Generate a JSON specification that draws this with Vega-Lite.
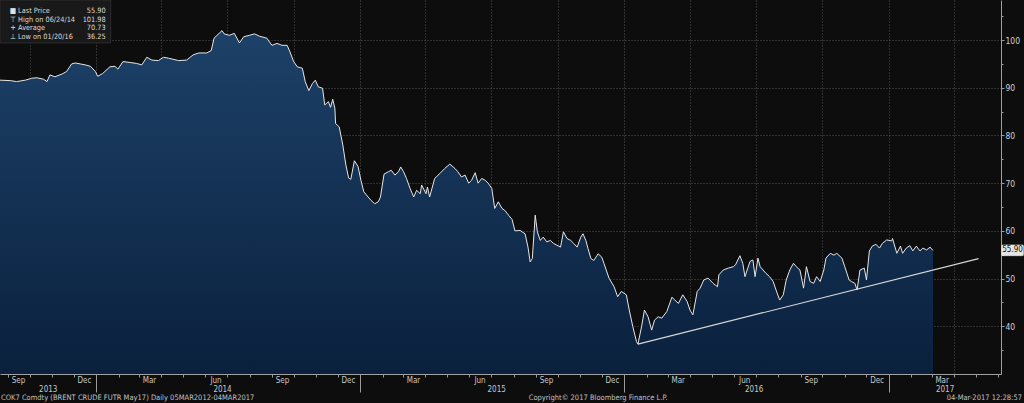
{
  "$schema": "https://vega.github.io/schema/vega-lite/v6.json",
  "width": 1001,
  "height": 374,
  "autosize": {"type": "none"},
  "padding": {"left": 0, "top": 0, "right": 23, "bottom": 29},
  "background": "#0d0d0e",
  "config": {
    "view": {"stroke": null},
    "font": "Liberation Sans Narrow, DejaVu Sans Condensed, Liberation Sans, sans-serif",
    "axis": {
      "labelFont": "Liberation Sans Narrow, DejaVu Sans Condensed, Liberation Sans, sans-serif",
      "labelColor": "#c8c8c8",
      "labelFontSize": 8,
      "tickColor": "#9a9a9a",
      "domainColor": "#a0a0a0",
      "gridColor": "#555555",
      "gridDash": [1, 2],
      "gridWidth": 1,
      "title": null
    }
  },
  "datasets": {
    "price": [
      {"d": "2013-08-21", "p": 91.6}, {"d": "2013-09-04", "p": 91.5}, {"d": "2013-09-13", "p": 91.3}, {"d": "2013-09-25", "p": 91.6},
      {"d": "2013-10-04", "p": 92.0}, {"d": "2013-10-11", "p": 92.1}, {"d": "2013-10-20", "p": 91.8}, {"d": "2013-10-25", "p": 91.3},
      {"d": "2013-10-29", "p": 92.7}, {"d": "2013-11-05", "p": 92.3}, {"d": "2013-11-15", "p": 92.9}, {"d": "2013-11-21", "p": 93.4},
      {"d": "2013-11-28", "p": 95.0}, {"d": "2013-12-03", "p": 95.2}, {"d": "2013-12-10", "p": 95.0}, {"d": "2013-12-17", "p": 94.8},
      {"d": "2013-12-24", "p": 94.5}, {"d": "2013-12-31", "p": 93.4}, {"d": "2014-01-03", "p": 92.4}, {"d": "2014-01-10", "p": 93.0},
      {"d": "2014-01-20", "p": 94.4}, {"d": "2014-01-27", "p": 94.5}, {"d": "2014-01-31", "p": 93.9}, {"d": "2014-02-07", "p": 95.5},
      {"d": "2014-02-17", "p": 95.3}, {"d": "2014-02-26", "p": 95.1}, {"d": "2014-03-05", "p": 94.8}, {"d": "2014-03-12", "p": 96.4},
      {"d": "2014-03-19", "p": 95.8}, {"d": "2014-03-28", "p": 95.7}, {"d": "2014-04-04", "p": 96.4}, {"d": "2014-04-11", "p": 96.2},
      {"d": "2014-04-25", "p": 95.7}, {"d": "2014-05-06", "p": 95.8}, {"d": "2014-05-15", "p": 96.9}, {"d": "2014-05-23", "p": 97.3},
      {"d": "2014-06-03", "p": 97.3}, {"d": "2014-06-09", "p": 97.8}, {"d": "2014-06-13", "p": 100.4}, {"d": "2014-06-24", "p": 101.98},
      {"d": "2014-06-27", "p": 101.3}, {"d": "2014-07-04", "p": 101.0}, {"d": "2014-07-11", "p": 101.4}, {"d": "2014-07-18", "p": 99.4},
      {"d": "2014-07-24", "p": 100.7}, {"d": "2014-08-01", "p": 101.0}, {"d": "2014-08-08", "p": 101.3}, {"d": "2014-08-15", "p": 100.8},
      {"d": "2014-08-25", "p": 100.4}, {"d": "2014-09-01", "p": 98.9}, {"d": "2014-09-08", "p": 99.3}, {"d": "2014-09-15", "p": 98.9},
      {"d": "2014-09-22", "p": 98.9}, {"d": "2014-09-26", "p": 97.5}, {"d": "2014-10-01", "p": 95.5}, {"d": "2014-10-06", "p": 94.4},
      {"d": "2014-10-13", "p": 94.1}, {"d": "2014-10-17", "p": 91.3}, {"d": "2014-10-22", "p": 89.4}, {"d": "2014-10-27", "p": 90.9},
      {"d": "2014-10-31", "p": 91.6}, {"d": "2014-11-04", "p": 90.2}, {"d": "2014-11-10", "p": 89.9}, {"d": "2014-11-13", "p": 86.4},
      {"d": "2014-11-18", "p": 87.1}, {"d": "2014-11-21", "p": 85.9}, {"d": "2014-11-24", "p": 87.6}, {"d": "2014-11-27", "p": 85.7},
      {"d": "2014-11-28", "p": 82.5}, {"d": "2014-12-03", "p": 81.8}, {"d": "2014-12-08", "p": 78.0}, {"d": "2014-12-12", "p": 74.0},
      {"d": "2014-12-16", "p": 71.1}, {"d": "2014-12-19", "p": 70.8}, {"d": "2014-12-24", "p": 74.7}, {"d": "2014-12-29", "p": 73.5},
      {"d": "2015-01-02", "p": 70.6}, {"d": "2015-01-06", "p": 68.2}, {"d": "2015-01-12", "p": 67.1}, {"d": "2015-01-16", "p": 66.4},
      {"d": "2015-01-21", "p": 65.7}, {"d": "2015-01-26", "p": 66.1}, {"d": "2015-01-29", "p": 67.1}, {"d": "2015-02-03", "p": 71.9},
      {"d": "2015-02-09", "p": 72.4}, {"d": "2015-02-13", "p": 72.7}, {"d": "2015-02-18", "p": 71.7}, {"d": "2015-02-23", "p": 72.4},
      {"d": "2015-02-26", "p": 73.4}, {"d": "2015-03-02", "p": 72.4}, {"d": "2015-03-06", "p": 71.0}, {"d": "2015-03-11", "p": 68.9},
      {"d": "2015-03-16", "p": 67.1}, {"d": "2015-03-20", "p": 68.5}, {"d": "2015-03-25", "p": 67.8}, {"d": "2015-03-27", "p": 69.6},
      {"d": "2015-04-02", "p": 67.8}, {"d": "2015-04-04", "p": 69.2}, {"d": "2015-04-07", "p": 67.1}, {"d": "2015-04-14", "p": 71.0},
      {"d": "2015-04-21", "p": 72.0}, {"d": "2015-04-28", "p": 73.1}, {"d": "2015-05-05", "p": 74.0}, {"d": "2015-05-12", "p": 73.1},
      {"d": "2015-05-16", "p": 72.4}, {"d": "2015-05-21", "p": 71.3}, {"d": "2015-05-26", "p": 71.7}, {"d": "2015-05-31", "p": 70.0},
      {"d": "2015-06-04", "p": 70.6}, {"d": "2015-06-09", "p": 72.2}, {"d": "2015-06-13", "p": 70.0}, {"d": "2015-06-18", "p": 71.0},
      {"d": "2015-06-23", "p": 70.6}, {"d": "2015-06-27", "p": 70.0}, {"d": "2015-07-02", "p": 68.9}, {"d": "2015-07-06", "p": 64.7},
      {"d": "2015-07-11", "p": 66.1}, {"d": "2015-07-16", "p": 64.7}, {"d": "2015-07-20", "p": 64.3}, {"d": "2015-07-25", "p": 63.3},
      {"d": "2015-07-30", "p": 62.4}, {"d": "2015-08-03", "p": 60.0}, {"d": "2015-08-10", "p": 60.1}, {"d": "2015-08-17", "p": 59.4},
      {"d": "2015-08-21", "p": 56.6}, {"d": "2015-08-24", "p": 53.5}, {"d": "2015-08-27", "p": 54.2}, {"d": "2015-08-31", "p": 63.3},
      {"d": "2015-09-03", "p": 59.8}, {"d": "2015-09-07", "p": 58.0}, {"d": "2015-09-11", "p": 58.7}, {"d": "2015-09-16", "p": 57.7},
      {"d": "2015-09-21", "p": 58.0}, {"d": "2015-09-25", "p": 57.4}, {"d": "2015-09-30", "p": 57.0}, {"d": "2015-10-05", "p": 56.6},
      {"d": "2015-10-09", "p": 59.8}, {"d": "2015-10-14", "p": 58.4}, {"d": "2015-10-19", "p": 58.0}, {"d": "2015-10-23", "p": 57.4},
      {"d": "2015-10-28", "p": 56.6}, {"d": "2015-11-02", "p": 58.7}, {"d": "2015-11-05", "p": 59.4}, {"d": "2015-11-09", "p": 58.0},
      {"d": "2015-11-12", "p": 56.3}, {"d": "2015-11-16", "p": 54.2}, {"d": "2015-11-20", "p": 53.8}, {"d": "2015-11-26", "p": 55.2},
      {"d": "2015-12-01", "p": 54.5}, {"d": "2015-12-04", "p": 53.2}, {"d": "2015-12-11", "p": 50.1}, {"d": "2015-12-18", "p": 48.3},
      {"d": "2015-12-23", "p": 46.2}, {"d": "2015-12-28", "p": 47.3}, {"d": "2016-01-04", "p": 46.6}, {"d": "2016-01-08", "p": 43.4},
      {"d": "2016-01-13", "p": 39.9}, {"d": "2016-01-18", "p": 36.8}, {"d": "2016-01-20", "p": 36.25}, {"d": "2016-01-25", "p": 39.9},
      {"d": "2016-01-29", "p": 43.4}, {"d": "2016-02-03", "p": 42.0}, {"d": "2016-02-08", "p": 39.2}, {"d": "2016-02-12", "p": 41.3},
      {"d": "2016-02-17", "p": 42.0}, {"d": "2016-02-22", "p": 41.7}, {"d": "2016-02-29", "p": 43.1}, {"d": "2016-03-07", "p": 46.1},
      {"d": "2016-03-11", "p": 45.5}, {"d": "2016-03-16", "p": 44.8}, {"d": "2016-03-22", "p": 46.6}, {"d": "2016-03-28", "p": 45.2},
      {"d": "2016-04-01", "p": 43.4}, {"d": "2016-04-05", "p": 42.4}, {"d": "2016-04-11", "p": 47.3}, {"d": "2016-04-15", "p": 48.0},
      {"d": "2016-04-20", "p": 49.7}, {"d": "2016-04-26", "p": 50.1}, {"d": "2016-05-03", "p": 49.0}, {"d": "2016-05-09", "p": 48.3},
      {"d": "2016-05-11", "p": 50.8}, {"d": "2016-05-17", "p": 51.8}, {"d": "2016-05-24", "p": 52.2}, {"d": "2016-05-31", "p": 52.5},
      {"d": "2016-06-03", "p": 52.9}, {"d": "2016-06-09", "p": 54.8}, {"d": "2016-06-13", "p": 53.2}, {"d": "2016-06-16", "p": 50.4},
      {"d": "2016-06-23", "p": 53.6}, {"d": "2016-06-27", "p": 53.9}, {"d": "2016-06-30", "p": 50.4}, {"d": "2016-07-04", "p": 54.3},
      {"d": "2016-07-07", "p": 52.5}, {"d": "2016-07-11", "p": 51.8}, {"d": "2016-07-15", "p": 51.1}, {"d": "2016-07-20", "p": 50.4},
      {"d": "2016-07-25", "p": 49.4}, {"d": "2016-07-29", "p": 47.6}, {"d": "2016-08-03", "p": 45.5}, {"d": "2016-08-08", "p": 46.6},
      {"d": "2016-08-12", "p": 49.7}, {"d": "2016-08-17", "p": 51.8}, {"d": "2016-08-22", "p": 53.2}, {"d": "2016-08-26", "p": 52.5},
      {"d": "2016-08-31", "p": 51.8}, {"d": "2016-09-05", "p": 48.0}, {"d": "2016-09-09", "p": 52.5}, {"d": "2016-09-14", "p": 49.4},
      {"d": "2016-09-19", "p": 49.0}, {"d": "2016-09-23", "p": 50.4}, {"d": "2016-09-28", "p": 49.4}, {"d": "2016-10-03", "p": 51.8},
      {"d": "2016-10-06", "p": 54.3}, {"d": "2016-10-12", "p": 55.3}, {"d": "2016-10-17", "p": 54.9}, {"d": "2016-10-21", "p": 55.3},
      {"d": "2016-10-28", "p": 54.3}, {"d": "2016-11-01", "p": 52.5}, {"d": "2016-11-07", "p": 49.7}, {"d": "2016-11-10", "p": 49.4},
      {"d": "2016-11-15", "p": 49.0}, {"d": "2016-11-18", "p": 47.6}, {"d": "2016-11-22", "p": 51.8}, {"d": "2016-11-28", "p": 52.2},
      {"d": "2016-12-01", "p": 49.7}, {"d": "2016-12-05", "p": 55.8}, {"d": "2016-12-09", "p": 56.8}, {"d": "2016-12-14", "p": 57.2},
      {"d": "2016-12-19", "p": 56.4}, {"d": "2016-12-23", "p": 57.4}, {"d": "2016-12-29", "p": 58.1}, {"d": "2017-01-05", "p": 57.9},
      {"d": "2017-01-06", "p": 58.4}, {"d": "2017-01-12", "p": 55.3}, {"d": "2017-01-17", "p": 56.8}, {"d": "2017-01-20", "p": 55.3},
      {"d": "2017-01-25", "p": 56.4}, {"d": "2017-01-30", "p": 56.9}, {"d": "2017-02-03", "p": 55.8}, {"d": "2017-02-08", "p": 56.8},
      {"d": "2017-02-13", "p": 55.8}, {"d": "2017-02-17", "p": 56.4}, {"d": "2017-02-22", "p": 56.0}, {"d": "2017-02-27", "p": 56.6},
      {"d": "2017-03-01", "p": 56.2}, {"d": "2017-03-03", "p": 55.9}
    ],
    "trend": [
      {"d": "2016-01-20", "p": 36.25},
      {"d": "2017-05-05", "p": 54.2}
    ]
  },
  "resolve": {"axis": {"x": "independent", "y": "independent"}},
  "layer": [
    {
      "data": {"name": "price"},
      "mark": {
        "type": "area",
        "color": {
          "gradient": "linear", "x1": 0, "y1": 0, "x2": 0, "y2": 1,
          "stops": [{"offset": 0, "color": "#1d4168"}, {"offset": 1, "color": "#0a203d"}]
        }
      },
      "encoding": {
        "x": {
          "field": "d", "type": "temporal",
          "scale": {"domain": [{"year": 2013, "month": 8, "date": 21}, {"year": 2017, "month": 6, "date": 5}]},
          "axis": {
            "orient": "bottom",
            "values": [
              {"year": 2013, "month": 9, "date": 1}, {"year": 2013, "month": 10, "date": 1}, {"year": 2013, "month": 11, "date": 1}, {"year": 2013, "month": 12, "date": 1},
              {"year": 2014, "month": 1, "date": 1}, {"year": 2014, "month": 2, "date": 1}, {"year": 2014, "month": 3, "date": 1}, {"year": 2014, "month": 4, "date": 1},
              {"year": 2014, "month": 5, "date": 1}, {"year": 2014, "month": 6, "date": 1}, {"year": 2014, "month": 7, "date": 1}, {"year": 2014, "month": 8, "date": 1},
              {"year": 2014, "month": 9, "date": 1}, {"year": 2014, "month": 10, "date": 1}, {"year": 2014, "month": 11, "date": 1}, {"year": 2014, "month": 12, "date": 1},
              {"year": 2015, "month": 1, "date": 1}, {"year": 2015, "month": 2, "date": 1}, {"year": 2015, "month": 3, "date": 1}, {"year": 2015, "month": 4, "date": 1},
              {"year": 2015, "month": 5, "date": 1}, {"year": 2015, "month": 6, "date": 1}, {"year": 2015, "month": 7, "date": 1}, {"year": 2015, "month": 8, "date": 1},
              {"year": 2015, "month": 9, "date": 1}, {"year": 2015, "month": 10, "date": 1}, {"year": 2015, "month": 11, "date": 1}, {"year": 2015, "month": 12, "date": 1},
              {"year": 2016, "month": 1, "date": 1}, {"year": 2016, "month": 2, "date": 1}, {"year": 2016, "month": 3, "date": 1}, {"year": 2016, "month": 4, "date": 1},
              {"year": 2016, "month": 5, "date": 1}, {"year": 2016, "month": 6, "date": 1}, {"year": 2016, "month": 7, "date": 1}, {"year": 2016, "month": 8, "date": 1},
              {"year": 2016, "month": 9, "date": 1}, {"year": 2016, "month": 10, "date": 1}, {"year": 2016, "month": 11, "date": 1}, {"year": 2016, "month": 12, "date": 1},
              {"year": 2017, "month": 1, "date": 1}, {"year": 2017, "month": 2, "date": 1}, {"year": 2017, "month": 3, "date": 1}, {"year": 2017, "month": 4, "date": 1},
              {"year": 2017, "month": 5, "date": 1}, {"year": 2017, "month": 6, "date": 1}
            ],
            "labels": false,
            "domain": true,
            "ticks": true,
            "tickSize": {"condition": {"test": "month(datum.value) === 0", "value": 18}, "value": 3},
            "grid": true,
            "gridOpacity": {"condition": {"test": "month(datum.value) % 3 === 0", "value": 1}, "value": 0}
          }
        },
        "y": {
          "field": "p", "type": "quantitative",
          "scale": {"domain": [30, 108.4], "nice": false, "zero": false},
          "axis": {
            "orient": "right",
            "values": [40, 50, 60, 70, 80, 90, 100],
            "tickSize": 3,
            "labelPadding": 1,
            "labelFontSize": 8.5,
            "labelColor": "#d0d0d0",
            "grid": true,
            "domain": true
          }
        },
        "y2": {"datum": 30}
      }
    },
    {
      "data": {"name": "price"},
      "mark": {"type": "line", "color": "#e6e6e6", "strokeWidth": 1},
      "encoding": {
        "x": {
          "field": "d", "type": "temporal",
          "axis": {
            "orient": "bottom",
            "values": [
              {"year": 2013, "month": 9, "date": 15}, {"year": 2013, "month": 12, "date": 15},
              {"year": 2014, "month": 3, "date": 15}, {"year": 2014, "month": 6, "date": 15}, {"year": 2014, "month": 9, "date": 15}, {"year": 2014, "month": 12, "date": 15},
              {"year": 2015, "month": 3, "date": 15}, {"year": 2015, "month": 6, "date": 15}, {"year": 2015, "month": 9, "date": 15}, {"year": 2015, "month": 12, "date": 15},
              {"year": 2016, "month": 3, "date": 15}, {"year": 2016, "month": 6, "date": 15}, {"year": 2016, "month": 9, "date": 15}, {"year": 2016, "month": 12, "date": 15},
              {"year": 2017, "month": 3, "date": 15}
            ],
            "format": "%b",
            "labels": true,
            "ticks": false,
            "tickSize": 0,
            "domain": false,
            "grid": false,
            "labelPadding": 2,
            "labelAlign": "center"
          }
        },
        "y": {
          "field": "p", "type": "quantitative",
          "axis": {
            "orient": "right",
            "values": [35, 45, 55, 65, 75, 85, 95, 105],
            "labels": false,
            "ticks": true,
            "tickSize": 2,
            "domain": false,
            "grid": false
          }
        }
      }
    },
    {
      "data": {"name": "trend"},
      "mark": {"type": "line", "color": "#d6d6d6", "strokeWidth": 1.2},
      "encoding": {
        "x": {
          "field": "d", "type": "temporal",
          "axis": {
            "orient": "bottom",
            "values": [
              {"year": 2013, "month": 10, "date": 26}, {"year": 2014, "month": 6, "date": 24},
              {"year": 2015, "month": 7, "date": 8}, {"year": 2016, "month": 6, "date": 28},
              {"year": 2017, "month": 3, "date": 19}
            ],
            "format": "%Y",
            "labels": true,
            "ticks": false,
            "tickSize": 0,
            "domain": false,
            "grid": false,
            "labelPadding": 11,
            "labelAlign": "center"
          }
        },
        "y": {"field": "p", "type": "quantitative", "axis": null}
      }
    },
    {
      "data": {"values": [{}]},
      "mark": {"type": "rect", "fill": "#191919", "stroke": "#2c2c2c", "strokeWidth": 1},
      "encoding": {
        "x": {"datum": {"year": 2013, "month": 8, "date": 21}, "type": "temporal", "axis": null},
        "x2": {"datum": {"year": 2014, "month": 1, "date": 21}},
        "y": {"datum": 108.4, "type": "quantitative", "axis": null},
        "y2": {"datum": 99.4}
      }
    },
    {
      "data": {"values": [{}]},
      "mark": {
        "type": "text", "align": "center", "baseline": "top", "fontSize": 7.5, "lineHeight": 8.7, "fill": "#e0e0e0",
        "text": ["■", "⊤", "+", "⊥"]
      },
      "encoding": {
        "x": {"datum": {"year": 2013, "month": 9, "date": 8}, "type": "temporal", "axis": null},
        "y": {"datum": 106.95, "type": "quantitative", "axis": null}
      }
    },
    {
      "data": {"values": [{}]},
      "mark": {
        "type": "text", "align": "left", "baseline": "top", "fontSize": 7.3, "lineHeight": 8.7, "fill": "#dcdcdc",
        "text": ["Last Price", "High on 06/24/14", "Average", "Low on 01/20/16"]
      },
      "encoding": {
        "x": {"datum": {"year": 2013, "month": 9, "date": 15}, "type": "temporal", "axis": null},
        "y": {"datum": 106.95, "type": "quantitative", "axis": null}
      }
    },
    {
      "data": {"values": [{}]},
      "mark": {
        "type": "text", "align": "right", "baseline": "top", "fontSize": 7.3, "lineHeight": 8.7, "fill": "#dcdcdc",
        "text": ["55.90", "101.98", "70.73", "36.25"]
      },
      "encoding": {
        "x": {"datum": {"year": 2014, "month": 1, "date": 14}, "type": "temporal", "axis": null},
        "y": {"datum": 106.95, "type": "quantitative", "axis": null}
      }
    },
    {
      "data": {"values": [{}]},
      "mark": {"type": "rect", "fill": "#e4e4e4", "stroke": "#ffffff", "strokeWidth": 0.5, "cornerRadius": 1},
      "encoding": {
        "x": {"datum": {"year": 2017, "month": 6, "date": 6}, "type": "temporal", "axis": null},
        "x2": {"datum": {"year": 2017, "month": 7, "date": 6}},
        "y": {"datum": 57.05, "type": "quantitative", "axis": null},
        "y2": {"datum": 54.8}
      }
    },
    {
      "data": {"values": [{}]},
      "mark": {"type": "text", "align": "center", "baseline": "middle", "fontSize": 8, "fill": "#111111", "text": "55.90"},
      "encoding": {
        "x": {"datum": {"year": 2017, "month": 6, "date": 21}, "type": "temporal", "axis": null},
        "y": {"datum": 55.9, "type": "quantitative", "axis": null}
      }
    },
    {
      "data": {"values": [{}]},
      "mark": {"type": "text", "align": "left", "baseline": "middle", "fontSize": 7.5, "fill": "#c0c0c0", "dx": 1,
        "text": "COK7 Comdty (BRENT CRUDE FUTR  May17)  Daily 05MAR2012-04MAR2017"},
      "encoding": {
        "x": {"datum": {"year": 2013, "month": 8, "date": 21}, "type": "temporal", "axis": null},
        "y": {"datum": 24.95, "type": "quantitative", "axis": null}
      }
    },
    {
      "data": {"values": [{}]},
      "mark": {"type": "text", "align": "left", "baseline": "middle", "fontSize": 7.5, "fill": "#c0c0c0",
        "text": "Copyright© 2017 Bloomberg Finance L.P."},
      "encoding": {
        "x": {"datum": {"year": 2015, "month": 8, "date": 22}, "type": "temporal", "axis": null},
        "y": {"datum": 24.95, "type": "quantitative", "axis": null}
      }
    },
    {
      "data": {"values": [{}]},
      "mark": {"type": "text", "align": "right", "baseline": "middle", "fontSize": 7.5, "fill": "#c0c0c0",
        "text": "04-Mar-2017 12:28:57"},
      "encoding": {
        "x": {"datum": {"year": 2017, "month": 7, "date": 4}, "type": "temporal", "axis": null},
        "y": {"datum": 24.95, "type": "quantitative", "axis": null}
      }
    }
  ]
}
